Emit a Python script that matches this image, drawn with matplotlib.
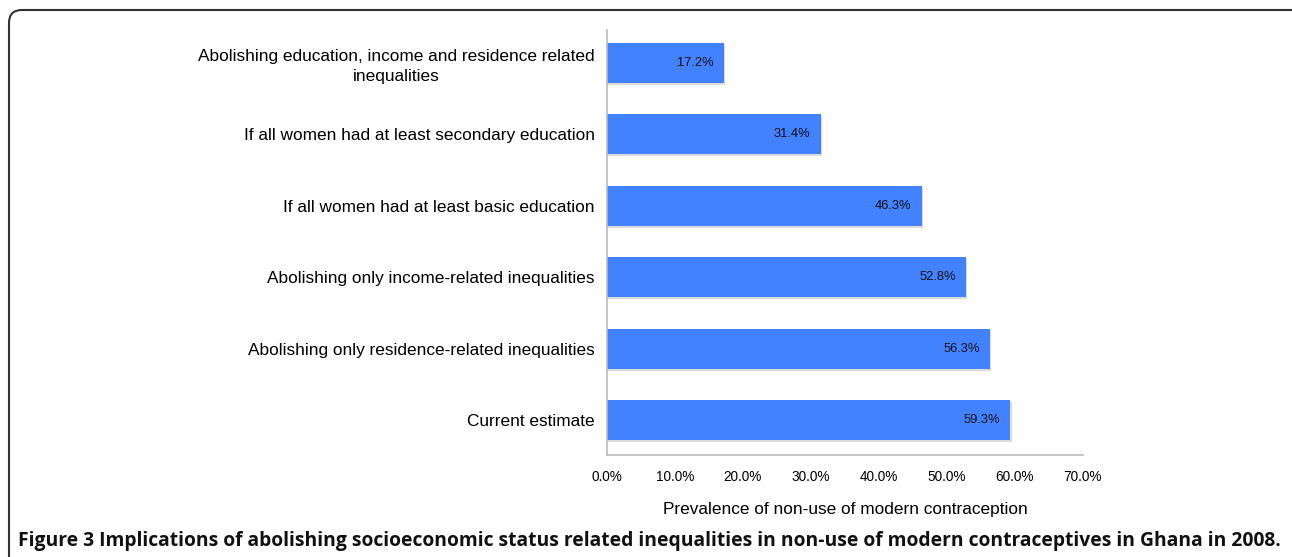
import matplotlib.pyplot as plt
import matplotlib.patheffects as pe
from matplotlib.patches import FancyBboxPatch
from matplotlib.ticker import FuncFormatter

plt.rcParams['font.family'] = ['Liberation Sans', 'DejaVu Sans']

# Data
categories = ['Abolishing education, income and residence related\ninequalities',
              'If all women had at least secondary education',
              'If all women had at least basic education',
              'Abolishing only income-related inequalities',
              'Abolishing only residence-related inequalities',
              'Current estimate']
values = [17.2, 31.4, 46.3, 52.8, 56.3, 59.3]
xticks = [0, 10, 20, 30, 40, 50, 60, 70]

bar_color = '#4281FF'
axis_grey = '#BBBBBB'

fig = plt.figure(figsize=(12.92, 5.57), dpi=100)

# Rounded frame around the figure (inches, runs off right and bottom edges)
frame = FancyBboxPatch((0.09, -0.5), 14.0, 5.47 + 0.5,
                       boxstyle='round,pad=0,rounding_size=0.13',
                       transform=fig.dpi_scale_trans, fill=False,
                       edgecolor='#333333', linewidth=1.5)
fig.patches.append(frame)

ax = fig.add_axes([607 / 1292, (557 - 455) / 557, (1083 - 607) / 1292, (455 - 30) / 557])

y = list(range(len(categories)))
bars = ax.barh(y, values, height=0.56, color=bar_color, zorder=2)
for b in bars:
    b.set_path_effects([pe.SimplePatchShadow(offset=(1.0, -1.5), shadow_rgbFace='#888888', alpha=0.3),
                        pe.Normal()])
for yi, v in zip(y, values):
    ax.text(v - 1.5, yi, f'{v:.1f}%', ha='right', va='center', fontsize=9.3, color='#111111')

ax.set_yticks(y)
ax.set_yticklabels(categories, fontsize=12.4, ha='right', multialignment='center', linespacing=1.35)
ax.tick_params(axis='y', length=0, pad=9)
ax.set_ylim(len(categories) - 1 + 0.49, -0.46)

ax.set_xlim(0, 70)
ax.set_xticks(xticks)
ax.xaxis.set_major_formatter(FuncFormatter(lambda x, p: f'{x:.1f}%'))
ax.tick_params(axis='x', length=0, pad=11, labelsize=9.8)
ax.set_xlabel('Prevalence of non-use of modern contraception', fontsize=12.4, labelpad=13)

for s in ['top', 'right']:
    ax.spines[s].set_visible(False)
for s in ['left', 'bottom']:
    ax.spines[s].set_color(axis_grey)
    ax.spines[s].set_linewidth(1.2)

fig.text(18 / 1292, (557 - 541) / 557,
         'Figure 3 Implications of abolishing socioeconomic status related inequalities in non-use of modern contraceptives in Ghana in 2008.',
         fontsize=13.9, fontweight='bold', va='center', ha='left', family='Open Sans', color='#111111')

fig.savefig('out.png', dpi=100)
